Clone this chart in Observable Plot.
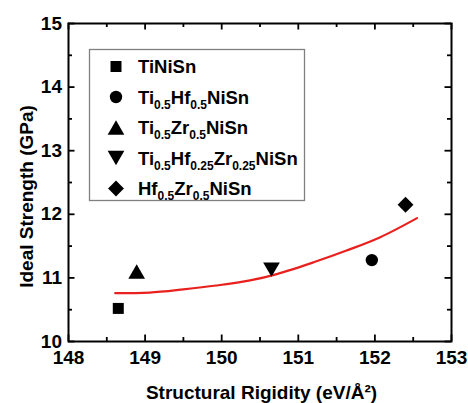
<!DOCTYPE html>
<html><head><meta charset="utf-8">
<script src="https://cdn.jsdelivr.net/npm/d3@7"></script>
<script src="https://cdn.jsdelivr.net/npm/@observablehq/plot@0.6"></script>
<style>body{margin:0;background:#fff} svg{display:block}</style>
</head><body><div id="chart"></div>
<script>
// ---- data ----
const materials = ["TiNiSn", "Ti_{0.5}Hf_{0.5}NiSn", "Ti_{0.5}Zr_{0.5}NiSn", "Ti_{0.5}Hf_{0.25}Zr_{0.25}NiSn", "Hf_{0.5}Zr_{0.5}NiSn"];
const rigidity = [148.65, 151.96, 148.89, 150.65, 152.40];
const strength = [10.52, 11.28, 11.10, 11.13, 12.15];
const fitRigidity = [148.61, 149.06, 149.50, 149.93, 150.37, 150.72, 151.20, 151.63, 152.07, 152.55];
const fitStrength = [10.76, 10.77, 10.82, 10.88, 10.96, 11.06, 11.245, 11.43, 11.64, 11.94];
const xMajor = [148, 149, 150, 151, 152, 153];
const xMinor = [148.5, 149.5, 150.5, 151.5, 152.5];
const yMajor = [10, 11, 12, 13, 14, 15];
const yMinor = [10.5, 11.5, 12.5, 13.5, 14.5];
const xTitle = "Structural Rigidity (eV/Å²)";
const yTitle = "Ideal Strength (GPa)";

// ---- layout ----
const W = 468, H = 403, mL = 68, mR = 17, mT = 23, mB = 62;
const innerW = W - mL - mR, innerH = H - mT - mB;
const FONT = "'Liberation Sans', Arial, Helvetica, sans-serif";
const majorLen = 6.5, minorLen = 4;

// symbols centred on their bounding box
const triUp = {draw(ctx, size) {const s = Math.sqrt(4 * size / Math.sqrt(3)), h = s * Math.sqrt(3) / 2;
  ctx.moveTo(0, -h / 2); ctx.lineTo(s / 2, h / 2); ctx.lineTo(-s / 2, h / 2); ctx.closePath();}};
const triDown = {draw(ctx, size) {const s = Math.sqrt(4 * size / Math.sqrt(3)), h = s * Math.sqrt(3) / 2;
  ctx.moveTo(0, h / 2); ctx.lineTo(s / 2, -h / 2); ctx.lineTo(-s / 2, -h / 2); ctx.closePath();}};
const diamond = {draw(ctx, size) {const r = Math.sqrt(size) * 0.72;
  ctx.moveTo(0, -r); ctx.lineTo(r, 0); ctx.lineTo(0, r); ctx.lineTo(-r, 0); ctx.closePath();}};
const symbols = [d3.symbolSquare, d3.symbolCircle, triUp, triDown, diamond];
const R = 6.2;

const points = materials.map((m, i) => ({name: m, x: rigidity[i], y: strength[i]}));
const fit = fitRigidity.map((x, i) => ({x, y: fitStrength[i]}));

const tickStyle = {stroke: "black", strokeWidth: 1.8};
const txt = {fontFamily: FONT, fontWeight: "bold", fill: "black"};

const svg = Plot.plot({
  width: W, height: H,
  marginLeft: mL, marginRight: mR, marginTop: mT, marginBottom: mB,
  style: {fontFamily: FONT, background: "white"},
  x: {domain: [148, 153], axis: null},
  y: {domain: [10, 15], axis: null},
  symbol: {domain: materials, range: symbols},
  marks: [
    // inward ticks on four sides
    Plot.tickX(xMajor, {x: d => d, insetTop: innerH - majorLen, ...tickStyle}),
    Plot.tickX(xMinor, {x: d => d, insetTop: innerH - minorLen, ...tickStyle}),
    Plot.tickX(xMajor, {x: d => d, insetBottom: innerH - majorLen, ...tickStyle}),
    Plot.tickX(xMinor, {x: d => d, insetBottom: innerH - minorLen, ...tickStyle}),
    Plot.tickY(yMajor, {y: d => d, insetRight: innerW - majorLen, ...tickStyle}),
    Plot.tickY(yMinor, {y: d => d, insetRight: innerW - minorLen, ...tickStyle}),
    Plot.tickY(yMajor, {y: d => d, insetLeft: innerW - majorLen, ...tickStyle}),
    Plot.tickY(yMinor, {y: d => d, insetLeft: innerW - minorLen, ...tickStyle}),
    // tick labels
    Plot.text(xMajor, {x: d => d, text: d => String(d), frameAnchor: "bottom", dy: 22.5, lineAnchor: "bottom", fontSize: 19, ...txt}),
    Plot.text(yMajor, {y: d => d, text: d => String(d), frameAnchor: "left", dx: -6.5, textAnchor: "end", lineAnchor: "middle", fontSize: 19, ...txt}),
    // axis titles
    Plot.text([xTitle], {text: d => d, frameAnchor: "bottom", dx: 1.5, dy: 57, textAnchor: "middle", lineAnchor: "bottom", fontSize: 19, ...txt}),
    Plot.text([yTitle], {text: d => d, frameAnchor: "left", rotate: -90, dx: -42, dy: 14, textAnchor: "middle", lineAnchor: "middle", fontSize: 19, ...txt}),
    // fit curve
    Plot.line(fit, {x: "x", y: "y", curve: "catmull-rom", stroke: "#e8211e", strokeWidth: 2.2}),
    // data points
    Plot.dot(points, {x: "x", y: "y", symbol: "name", r: R, fill: "black", stroke: "none"}),
    Plot.frame({stroke: "black", strokeWidth: 2})
  ]
});

// ---- legend (inside the plot) ----
const lg = d3.select(svg).append("g").attr("font-family", FONT).attr("font-weight", "bold").attr("text-anchor", "start");
lg.append("rect").attr("x", 89.5).attr("y", 49.5).attr("width", 215).attr("height", 151)
  .attr("fill", "white").attr("stroke", "#808080").attr("stroke-width", 1.3);
const size = Math.PI * R * R;
materials.forEach((m, i) => {
  const cy = 66.5 + i * 30.5;
  lg.append("path").attr("transform", `translate(116,${cy})`).attr("d", d3.symbol(symbols[i], size)()).attr("fill", "black");
  const t = lg.append("text").attr("x", 138).attr("y", cy + 6.5).attr("font-size", 18.5).attr("fill", "black").attr("text-anchor", "start");
  const parts = m.split(/(_\{[^}]*\})/).filter(s => s.length);
  let shifted = false;
  parts.forEach(p => {
    if (p.startsWith("_{")) {
      t.append("tspan").attr("font-size", 12).attr("dy", shifted ? 0 : 5).text(p.slice(2, -1));
      shifted = true;
    } else {
      t.append("tspan").attr("dy", shifted ? -5 : 0).text(p);
      shifted = false;
    }
  });
});

document.getElementById("chart").appendChild(svg);
</script>
</body></html>
